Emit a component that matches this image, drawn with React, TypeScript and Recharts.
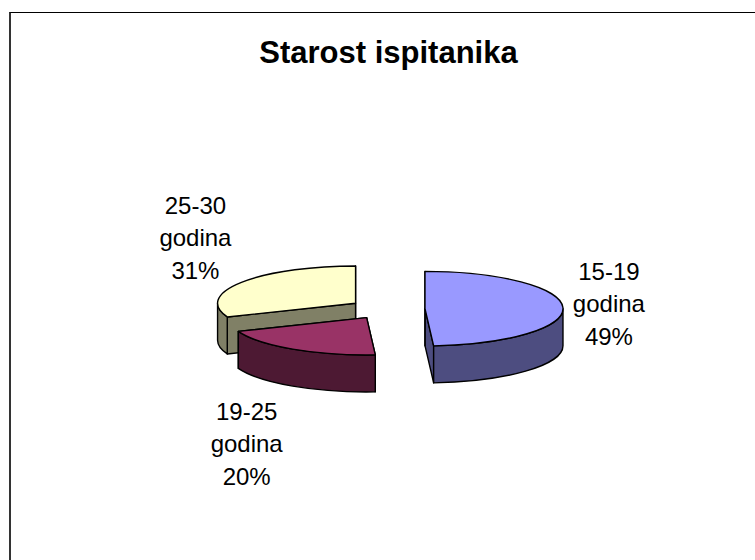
import { PieChart, Pie } from "recharts";

const categories = ["15-19", "19-25", "25-30"];
const unitLabel = "godina";
const shares = [49, 20, 31];
const topColors = ["#9999FF", "#993366", "#FFFFCC"];
const sideColors = ["#4D4D80", "#4D1933", "#808066"];

const TILT = 0.27; // ry / rx of the flattened pie
const DEPTH = 37;
const EXPLODE = 38;

// slices are painted back to front, so the table is reversed and the angles run counter-clockwise
const data = categories
  .map((name, i) => ({ name, value: shares[i], idx: i }))
  .reverse();

const rad = (a: number) => (a * Math.PI) / 180;

function pt(x: number, y: number, r: number, a: number): [number, number] {
  return [x + r * Math.cos(rad(a)), y - TILT * r * Math.sin(rad(a))];
}

const clamp = (v: number) => Math.max(-1, Math.min(1, v));

function Slice3D(props: any) {
  const { cx, cy, outerRadius: r, startAngle, endAngle, percent } = props;
  const idx = props.payload?.idx ?? props.idx;
  const a0 = Math.min(startAngle, endAngle);
  const a1 = Math.max(startAngle, endAngle);
  const mid = (a0 + a1) / 2;
  const [X, Y] = pt(cx, cy, EXPLODE, mid);
  const ry = r * TILT;
  const top = topColors[idx];
  const side = sideColors[idx];
  const edge = { stroke: "#000", strokeWidth: 1.4, strokeLinejoin: "round" as const };

  const p0 = pt(X, Y, r, a0);
  const p1 = pt(X, Y, r, a1);

  const radial = [p0, p1].map((p, k) => (
    <path
      key={"r" + k}
      d={`M${X},${Y} L${p[0]},${p[1]} L${p[0]},${p[1] + DEPTH} L${X},${Y + DEPTH} Z`}
      fill={side}
      {...edge}
    />
  ));

  // outer wall: only the front half of the rim is visible
  const walls: JSX.Element[] = [];
  for (let k = -1; k <= 2; k++) {
    const lo = Math.max(a0, 180 + 360 * k);
    const hi = Math.min(a1, 360 + 360 * k);
    if (hi > lo) {
      const q0 = pt(X, Y, r, lo);
      const q1 = pt(X, Y, r, hi);
      walls.push(
        <path
          key={"w" + k}
          d={`M${q0[0]},${q0[1]} A${r},${ry} 0 0 0 ${q1[0]},${q1[1]} L${q1[0]},${q1[1] + DEPTH} A${r},${ry} 0 0 1 ${q0[0]},${q0[1] + DEPTH} Z`}
          fill={side}
          {...edge}
        />
      );
    }
  }

  const large = a1 - a0 > 180 ? 1 : 0;
  const face = (
    <path
      d={`M${X},${Y} L${p0[0]},${p0[1]} A${r},${ry} 0 ${large} 0 ${p1[0]},${p1[1]} Z`}
      fill={top}
      {...edge}
    />
  );

  // label sits just outside the rim, toward the slice's middle
  const c = Math.cos(rad(mid));
  const s = Math.sin(rad(mid));
  const [px, py0] = pt(X, Y, r, mid);
  const py = s < 0 ? py0 + DEPTH : py0;
  const sx = clamp(c * 3);
  const sy = clamp(-s * 3);
  const lx = px + sx * 46;
  const ly = py + sy * (sy > 0 ? 57 : 45);
  const lines = [categories[idx], unitLabel, `${Math.round(percent * 100)}%`];

  return (
    <g>
      {radial}
      {walls}
      {face}
      {lines.map((t, k) => (
        <text
          key={"t" + k}
          x={lx}
          y={ly - 23.5 + k * 32.5}
          textAnchor="middle"
          fontFamily="'Liberation Sans', Arial, sans-serif"
          fontSize={24}
          fill="#000"
        >
          {t}
        </text>
      ))}
    </g>
  );
}

export default function App() {
  return (
    <div
      style={{
        position: "fixed",
        inset: 0,
        overflow: "hidden",
        background: "#fff",
      }}
    >
      <div
        style={{
          position: "absolute",
          left: 9,
          top: 12,
          width: 800,
          height: 600,
          borderLeft: "2px solid #333",
          borderTop: "1px solid #000",
        }}
      />
      <div
        style={{
          position: "absolute",
          left: 0,
          top: 37,
          width: 777,
          textAlign: "center",
          fontFamily: "'Liberation Sans', Arial, sans-serif",
          fontWeight: "bold",
          fontSize: 31,
          lineHeight: "31px",
        }}
      >
        Starost ispitanika
      </div>
      <div style={{ position: "absolute", left: 0, top: 0 }}>
        <PieChart
          width={755}
          height={560}
          margin={{ top: 0, right: 0, bottom: 0, left: 0 }}
        >
          <Pie
            data={data}
            dataKey="value"
            nameKey="name"
            cx={387}
            cy={309}
            outerRadius={138}
            startAngle={90}
            endAngle={450}
            fill="none"
            stroke="none"
            label={Slice3D}
            labelLine={false}
            isAnimationActive={false}
          />
        </PieChart>
      </div>
    </div>
  );
}
